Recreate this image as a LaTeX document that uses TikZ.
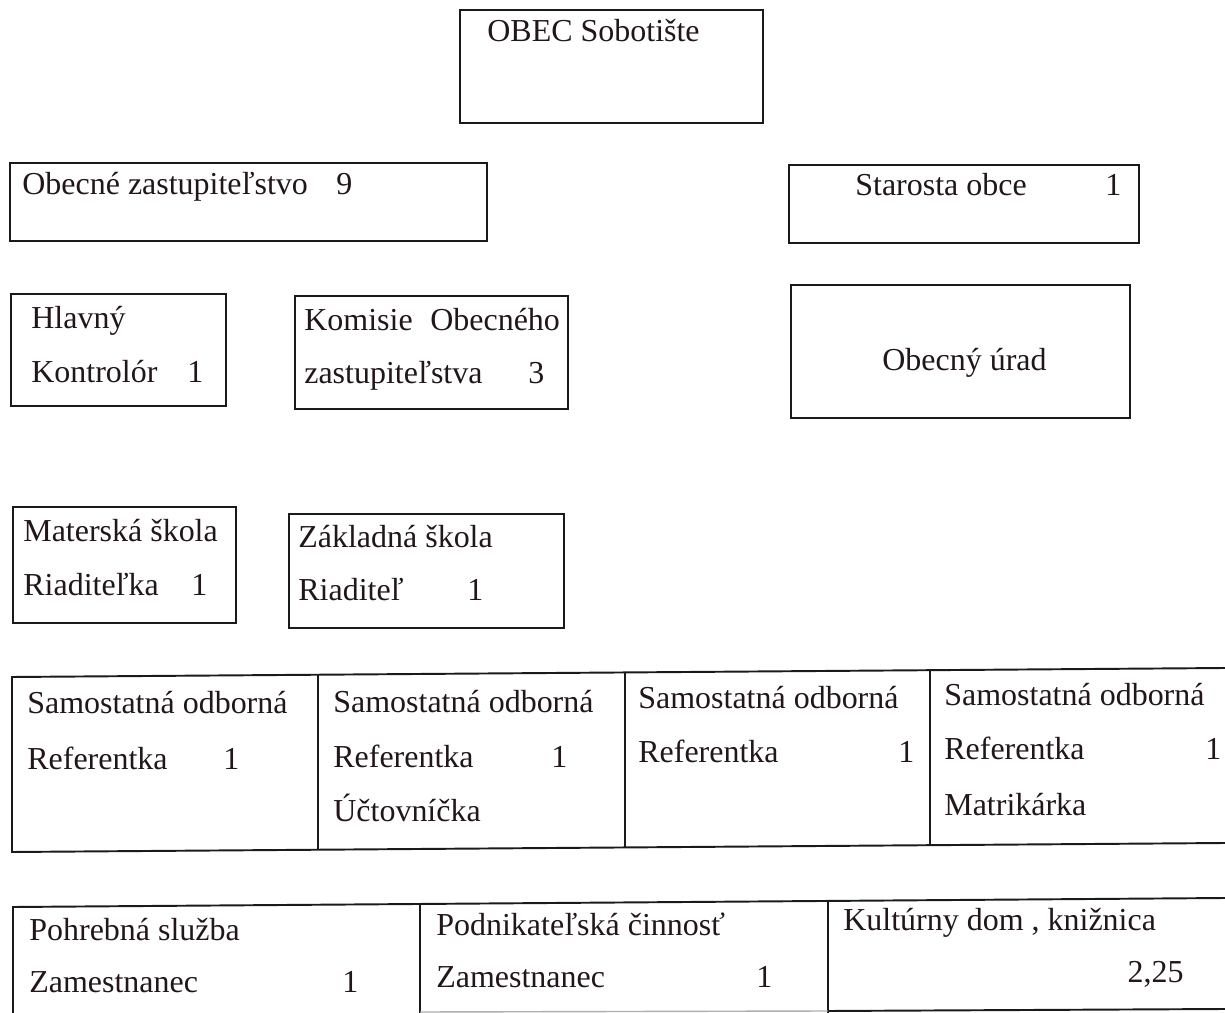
\documentclass[tikz,border=0pt]{standalone}
\usepackage{fontspec}
\setmainfont{Liberation Serif}
\definecolor{linec}{HTML}{1A1A1A}
\definecolor{txtc}{HTML}{22161A}
\begin{document}
\begin{tikzpicture}[x=0.02cm,y=-0.02cm,
  box/.style={draw=linec, line width=1.1pt},
  faint/.style={draw=linec!35, line width=0.8pt},
  lbl/.style={anchor=base west, inner sep=0pt, text=txtc, font=\fontsize{18.2}{22}\selectfont},
  lblr/.style={lbl, anchor=base east}]
\useasboundingbox (0,0) rectangle (1225,1013);
\fill[white] (0,0) rectangle (1225,1013);

% OBEC
\draw[box] (460,10) rectangle (763,123);
\node[lbl] (obec) at (487,42) {OBEC Sobotište};

% Obecne zastupitelstvo
\draw[box] (10,163) rectangle (487,241);
\node[lbl] (oz) at (22,195) {Obecné zastupiteľstvo};
\node[lbl] (ozn) at (336,195) {9};

% Starosta
\draw[box] (789,165) rectangle (1139,243);
\node[lbl] (st) at (855,196) {Starosta obce};
\node[lbl] (stn) at (1105,196) {1};

% Hlavny kontrolor
\draw[box] (11,294) rectangle (226,406);
\node[lbl] (hk1) at (31,329) {Hlavný};
\node[lbl] (hk2) at (31,383) {Kontrolór};
\node[lbl] (hkn) at (187,383) {1};

% Komisie
\draw[box] (295,296) rectangle (568,409);
\node[lbl] (ko1) at (304,331) {Komisie\hspace{0.55em}Obecného};
\node[lbl] (ko2) at (304,384) {zastupiteľstva};
\node[lbl] (kon) at (528,384) {3};

% Obecny urad
\draw[box] (791,285) rectangle (1130,418);
\node[lbl] (ou) at (882,371) {Obecný úrad};

% Materska skola
\draw[box] (13,507) rectangle (236,623);
\node[lbl] (ms1) at (23,542) {Materská škola};
\node[lbl] (ms2) at (23,596) {Riaditeľka};
\node[lbl] (msn) at (191,596) {1};

% Zakladna skola
\draw[box] (289,514) rectangle (564,628);
\node[lbl] (zs1) at (298,548) {Základná škola};
\node[lbl] (zs2) at (298,601) {Riaditeľ};
\node[lbl] (zsn) at (467,601) {1};

% Samostatna row
\draw[box] (1225,668) -- (12,677) -- (12,852) -- (1225,843);
\draw[box] (318,675) -- (318,850);
\draw[box] (625,673) -- (625,848);
\draw[box] (930,670) -- (930,845);
\node[lbl] (a1) at (27,714) {Samostatná odborná};
\node[lbl] (a2) at (27,769) {Referentka};
\node[lbl] (an) at (223,769) {1};
\node[lbl] (b1) at (333,712) {Samostatná odborná};
\node[lbl] (b2) at (333,767) {Referentka};
\node[lbl] (bn) at (551,767) {1};
\node[lbl] (b3) at (333,821) {Účtovníčka};
\node[lbl] (c1) at (638,708) {Samostatná odborná};
\node[lbl] (c2) at (638,763) {Referentka};
\node[lbl] (cn) at (898,763) {1};
\node[lbl] (d1) at (944,705) {Samostatná odborná};
\node[lbl] (d2) at (944,760) {Referentka};
\node[lbl] (dn) at (1205,760) {1};
\node[lbl] (d3) at (944,815) {Matrikárka};

% Bottom row
\draw[box] (1225,898) -- (13,907) -- (13,1013);
\draw[box] (420,905) -- (420,1013);
\draw[box] (828,902) -- (828,1013);
\draw[faint] (420,1012) -- (828,1011);
\draw[box] (828,1011) -- (1225,1009);
\node[lbl] (p1) at (29,940) {Pohrebná služba};
\node[lbl] (p2) at (29,992) {Zamestnanec};
\node[lbl] (pn) at (342,992) {1};
\node[lbl] (q1) at (436,935) {Podnikateľská činnosť};
\node[lbl] (q2) at (436,987) {Zamestnanec};
\node[lbl] (qn) at (756,987) {1};
\node[lbl] (r1) at (843,930) {Kultúrny dom , knižnica};
\node[lblr] (rn) at (1184,982) {2,25};
\end{tikzpicture}
\end{document}
